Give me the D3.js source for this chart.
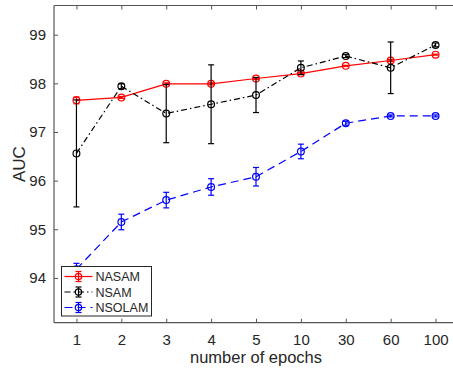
<!DOCTYPE html>
<html>
<head>
<meta charset="utf-8">
<script src="https://cdn.jsdelivr.net/npm/d3@7"></script>
<style>
  body { margin: 0; background: #fff; }
  text { font-family: "Liberation Sans", Arial, sans-serif; fill: #262626; }
</style>
</head>
<body>
<div id="chart"></div>
<script>
// epochs shown as evenly spaced categories
var epochs = ['1', '2', '3', '4', '5', '10', '30', '60', '100'];

var nasam     = [97.65, 97.71, 97.99, 97.99, 98.10, 98.20, 98.36, 98.47, 98.59];
var nasam_err = [0.07, 0.02, 0.02, 0.02, 0.02, 0.02, 0.01, 0.02, 0.01];

var nsam     = [96.56, 97.94, 97.38, 97.57, 97.76, 98.32, 98.56, 98.32, 98.79];
var nsam_err = [1.10, 0.05, 0.60, 0.81, 0.36, 0.14, 0.03, 0.53, 0.04];

var nsolam     = [94.18, 95.15, 95.60, 95.87, 96.08, 96.60, 97.18, 97.33, 97.33];
var nsolam_err = [0.12, 0.16, 0.16, 0.17, 0.19, 0.15, 0.04, 0.02, 0.02];

var yTicks = [94, 95, 96, 97, 98, 99];

var series = [
	{ name: 'NASAM',  values: nasam,  err: nasam_err,  color: '#ff0000', dash: null },
	{ name: 'NSAM',   values: nsam,   err: nsam_err,   color: '#000000', dash: '6,3,1.5,3' },
	{ name: 'NSOLAM', values: nsolam, err: nsolam_err, color: '#0000ff', dash: '8,5' }
];

const width = 453;
const height = 375;
const mLeft = 54, mRight = 458, mTop = 5.5, mBottom = 322.7;

var svg = d3.select('#chart').append('svg')
	.attr('width', width)
	.attr('height', height);

var x = d3.scalePoint().domain(epochs).range([mLeft, mRight]).padding(0.5);
var y = d3.scaleLinear().domain([93.08, 99.6]).range([mBottom, mTop]);

var axisColor = '#555';

// bottom axis (ticks inward)
var xAxis = svg.append('g')
	.attr('transform', 'translate(0,' + mBottom + ')')
	.call(d3.axisBottom(x).tickSize(-4).tickPadding(9));
xAxis.select('.domain').remove();
xAxis.selectAll('line').attr('stroke', axisColor);
xAxis.selectAll('text').style('font-size', '15px').attr('dy', '0.71em').attr('y', 12);

// top ticks
var xTop = svg.append('g')
	.attr('transform', 'translate(0,' + mTop + ')')
	.call(d3.axisTop(x).tickSize(-4).tickFormat(''));
xTop.select('.domain').remove();
xTop.selectAll('line').attr('stroke', axisColor);

// left axis
var yAxis = svg.append('g')
	.attr('transform', 'translate(' + mLeft + ',0)')
	.call(d3.axisLeft(y).tickValues(yTicks).tickFormat(d3.format('d')).tickSize(-4).tickPadding(8));
yAxis.select('.domain').remove();
yAxis.selectAll('line').attr('stroke', axisColor);
yAxis.selectAll('text').style('font-size', '15px');

// box lines
svg.append('line').attr('x1', mLeft).attr('x2', mRight).attr('y1', mBottom).attr('y2', mBottom)
	.attr('stroke', axisColor).attr('stroke-width', 1.2);
svg.append('line').attr('x1', mLeft).attr('x2', mRight).attr('y1', mTop).attr('y2', mTop)
	.attr('stroke', axisColor).attr('stroke-width', 1.2);
svg.append('line').attr('x1', mLeft).attr('x2', mLeft).attr('y1', mTop).attr('y2', mBottom)
	.attr('stroke', axisColor).attr('stroke-width', 1.2);

// axis titles
svg.append('text')
	.attr('x', (mLeft + mRight) / 2).attr('y', 363)
	.attr('text-anchor', 'middle')
	.style('font-size', '16.5px')
	.text('number of epochs');
svg.append('text')
	.attr('transform', 'translate(25,' + ((mTop + mBottom) / 2) + ') rotate(-90)')
	.attr('text-anchor', 'middle')
	.style('font-size', '17px')
	.text('AUC');

var line = d3.line()
	.x(function(d, i) { return x(epochs[i]); })
	.y(function(d) { return y(d); });

var cap = 3;

series.forEach(function(s) {
	var g = svg.append('g').attr('class', 'series');

	g.append('path')
		.datum(s.values)
		.attr('d', line)
		.attr('fill', 'none')
		.attr('stroke', s.color)
		.attr('stroke-width', 1.2)
		.attr('stroke-dasharray', s.dash);

	// error bars
	var eb = g.selectAll('g.err').data(s.values).enter().append('g').attr('class', 'err');
	eb.append('line')
		.attr('x1', function(d, i) { return x(epochs[i]); })
		.attr('x2', function(d, i) { return x(epochs[i]); })
		.attr('y1', function(d, i) { return y(d - s.err[i]); })
		.attr('y2', function(d, i) { return y(d + s.err[i]); });
	eb.append('line')
		.attr('x1', function(d, i) { return x(epochs[i]) - cap; })
		.attr('x2', function(d, i) { return x(epochs[i]) + cap; })
		.attr('y1', function(d, i) { return y(d - s.err[i]); })
		.attr('y2', function(d, i) { return y(d - s.err[i]); });
	eb.append('line')
		.attr('x1', function(d, i) { return x(epochs[i]) - cap; })
		.attr('x2', function(d, i) { return x(epochs[i]) + cap; })
		.attr('y1', function(d, i) { return y(d + s.err[i]); })
		.attr('y2', function(d, i) { return y(d + s.err[i]); });
	eb.selectAll('line').attr('stroke', s.color).attr('stroke-width', 1.2);

	g.selectAll('circle').data(s.values).enter().append('circle')
		.attr('cx', function(d, i) { return x(epochs[i]); })
		.attr('cy', function(d) { return y(d); })
		.attr('r', 3.4)
		.attr('fill', 'none')
		.attr('stroke', s.color)
		.attr('stroke-width', 1.2);
});

// legend
var lg = svg.append('g').attr('transform', 'translate(61.5,266.5)');
lg.append('rect')
	.attr('width', 90).attr('height', 49.5)
	.attr('fill', '#fff')
	.attr('stroke', '#262626')
	.attr('stroke-width', 1);

series.forEach(function(s, i) {
	var yy = 10 + i * 15.5;
	var row = lg.append('g').attr('transform', 'translate(0,' + yy + ')');
	row.append('line')
		.attr('x1', 3).attr('x2', 31).attr('y1', 0).attr('y2', 0)
		.attr('stroke', s.color).attr('stroke-width', 1.2)
		.attr('stroke-dasharray', s.dash);
	row.append('line')
		.attr('x1', 17).attr('x2', 17).attr('y1', -5).attr('y2', 5)
		.attr('stroke', s.color).attr('stroke-width', 1.2);
	row.append('line')
		.attr('x1', 14).attr('x2', 20).attr('y1', -5).attr('y2', -5)
		.attr('stroke', s.color).attr('stroke-width', 1.2);
	row.append('line')
		.attr('x1', 14).attr('x2', 20).attr('y1', 5).attr('y2', 5)
		.attr('stroke', s.color).attr('stroke-width', 1.2);
	row.append('circle')
		.attr('cx', 17).attr('cy', 0).attr('r', 3.2)
		.attr('fill', 'none').attr('stroke', s.color).attr('stroke-width', 1.2);
	row.append('text')
		.attr('x', 34).attr('y', 0).attr('dy', '0.36em')
		.style('font-size', '12.5px')
		.text(s.name);
});
</script>
</body>
</html>
